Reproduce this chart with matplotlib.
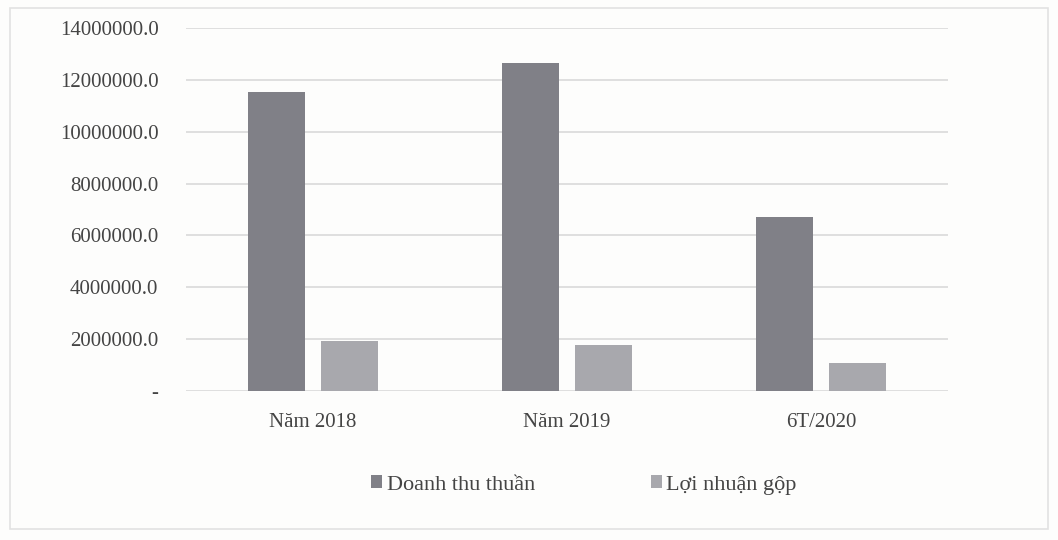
import matplotlib.pyplot as plt
import numpy as np
from matplotlib.patches import Rectangle

categories = ["Năm 2018", "Năm 2019", "6T/2020"]
doanh_thu = [11550000, 12670000, 6700000]
loi_nhuan = [1940000, 1780000, 1090000]
series_names = ["Doanh thu thuần", "Lợi nhuận gộp"]
yticks = [0, 2000000, 4000000, 6000000, 8000000, 10000000, 12000000, 14000000]

plt.rcParams['font.family'] = ['Liberation Serif', 'DejaVu Serif']

fig = plt.figure(figsize=(10.58, 5.40), dpi=100)
fig.patch.set_facecolor('#fdfdfc')
ax = fig.add_axes([0.176, 0.276, 0.72, 0.672])
ax.set_facecolor('#fdfdfc')

x = np.arange(len(categories))
w = 0.224
off = 0.144
c1, c2 = '#808087', '#a8a8ad'
ax.bar(x - off, doanh_thu, w, color=c1, label=series_names[0], zorder=3)
ax.bar(x + off, loi_nhuan, w, color=c2, label=series_names[1], zorder=3)

ax.set_xlim(-0.5, 2.5)
ax.set_ylim(0, 14000000)
ax.set_yticks(yticks)
ax.set_yticklabels(["-" if v == 0 else f"{v:.1f}" for v in yticks],
                   fontsize=15, color='#444444')
ax.set_xticks(x)
ax.set_xticklabels(categories, fontsize=15, color='#444444')
ax.tick_params(axis='y', length=0, pad=20)
ax.tick_params(axis='x', length=0, pad=16)
ax.grid(axis='y', color='#dadada', linewidth=1.2, zorder=0)
for s in ax.spines.values():
    s.set_visible(False)

leg = fig.legend(loc='center', bbox_to_anchor=(0.552, 0.102), ncol=2,
                 frameon=False, fontsize=16, handlelength=0.5, handleheight=0.5,
                 handletextpad=0.2, columnspacing=5.2)
for t in leg.get_texts():
    t.set_color('#444444')

fig.patches.append(Rectangle((0.009, 0.02), 0.982, 0.965, transform=fig.transFigure,
                             fill=False, edgecolor='#e2e2e2', linewidth=1.2))

fig.savefig('out.png', dpi=100, facecolor=fig.get_facecolor())
